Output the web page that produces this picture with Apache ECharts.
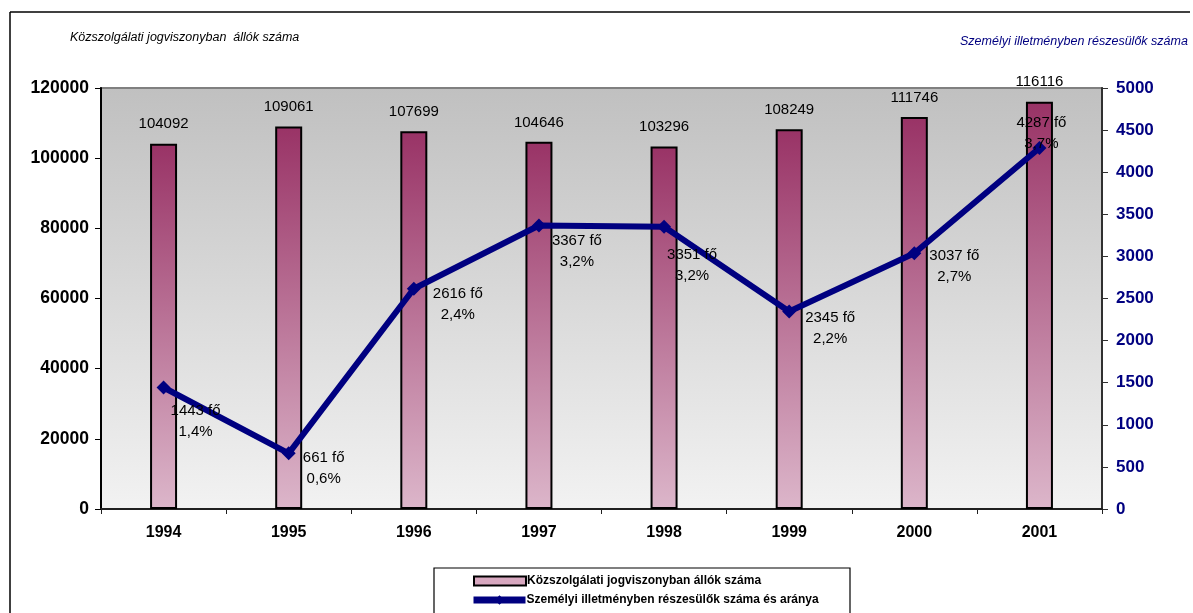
<!DOCTYPE html>
<html>
<head>
<meta charset="utf-8">
<script src="https://cdn.jsdelivr.net/npm/echarts@6/dist/echarts.min.js"></script>
<style>html,body{margin:0;padding:0;background:#fff;}#c{width:1193px;height:613px;}</style>
</head>
<body>
<div id="c"></div>
<script>
const years = ['1994','1995','1996','1997','1998','1999','2000','2001'];
const employees = [104092, 109061, 107699, 104646, 103296, 108249, 111746, 116116];
const personal = [1443, 661, 2616, 3367, 3351, 2345, 3037, 4287];
const shares = ['1,4%', '0,6%', '2,4%', '3,2%', '3,2%', '2,2%', '2,7%', '3,7%'];
const leftTicks = [0, 20000, 40000, 60000, 80000, 100000, 120000];
const rightTicks = [0, 500, 1000, 1500, 2000, 2500, 3000, 3500, 4000, 4500, 5000];
const barName = 'Közszolgálati jogviszonyban állók száma';
const lineName = 'Személyi illetményben részesülők száma és aránya';
const leftTitle = 'Közszolgálati jogviszonyban  állók száma';
const rightTitle = 'Személyi illetményben részesülők száma';

// label offsets (layout only)
const lblOffsets = [[32,34],[35,15],[44,16],[38,26],[28,39],[41,17],[40,13],[2,-15]];

const chart = echarts.init(document.getElementById('c'), null, {renderer:'canvas'});
const font = 'Arial, "Liberation Sans", sans-serif';
const barGrad = new echarts.graphic.LinearGradient(0,0,0,1,[
  {offset:0, color:'#993366'},
  {offset:1, color:'#dcb6ca'}
]);
const bgGrad = new echarts.graphic.LinearGradient(0,0,0,1,[
  {offset:0, color:'#c0c0c0'},
  {offset:1, color:'#f2f2f2'}
]);
const legendText = {fontSize:12, fontWeight:'bold', color:'#000', fontFamily:font, padding:[0,0,0,-4]};

chart.setOption({
  animation:false,
  backgroundColor:'#ffffff',
  textStyle:{fontFamily:font},
  grid:{left:101, right:91, top:88, bottom:104, show:true, backgroundColor:bgGrad, borderColor:'#808080', borderWidth:2},
  graphic:[
    {type:'line', shape:{x1:10,y1:12,x2:1190,y2:12}, style:{stroke:'#000', lineWidth:1.5}},
    {type:'line', shape:{x1:10,y1:12,x2:10,y2:613}, style:{stroke:'#000', lineWidth:1.5}},
    {type:'rect', shape:{x:434,y:568,width:416,height:60}, style:{fill:'#fff', stroke:'#000', lineWidth:1.2}, z:-1},
    {type:'text', left:70, top:31, style:{text:leftTitle, font:'italic 12.5px '+font, fill:'#000'}},
    {type:'text', left:960, top:35, style:{text:rightTitle, font:'italic 12.5px '+font, fill:'#000080'}}
  ],
  legend:[
    {left:473, top:575, padding:0, itemWidth:52, itemHeight:9, textStyle:legendText,
     data:[{name:barName, icon:'rect', itemStyle:{color:'#d8a8c0', borderColor:'#000', borderWidth:2}}]},
    {left:470, top:594, padding:0, itemWidth:52, itemHeight:12, textStyle:legendText,
     data:[{name:lineName, itemStyle:{color:'#000080'}, lineStyle:{color:'#000080', width:7}}]}
  ],
  xAxis:{
    type:'category', data:years, boundaryGap:true,
    axisLine:{lineStyle:{color:'#202020', width:2}},
    axisTick:{show:true, length:5, lineStyle:{color:'#202020'}},
    axisLabel:{fontSize:16, fontWeight:'bold', color:'#000', margin:16}
  },
  yAxis:[
    {type:'value', min:0, max:120000, interval:20000, position:'left',
     axisLine:{show:true, lineStyle:{color:'#000', width:2}},
     axisTick:{show:true, length:6, lineStyle:{color:'#000'}},
     splitLine:{show:false},
     axisLabel:{fontSize:17.5, fontWeight:'bold', color:'#000', margin:12,
       formatter:v=>leftTicks.includes(v)?String(v):''}},
    {type:'value', min:0, max:5000, interval:500, position:'right',
     axisLine:{show:true, lineStyle:{color:'#303030', width:2}},
     axisTick:{show:true, length:6, lineStyle:{color:'#303030'}},
     splitLine:{show:false},
     axisLabel:{fontSize:17, fontWeight:'bold', color:'#000080', margin:14,
       formatter:v=>rightTicks.includes(v)?String(v):''}}
  ],
  series:[
    {name:barName, type:'bar', data:employees, barWidth:27, yAxisIndex:0,
     itemStyle:{color:barGrad, borderColor:'#000', borderWidth:2},
     label:{show:true, position:'top', distance:12, fontSize:15, color:'#000', fontFamily:font}},
    {name:lineName, type:'line', yAxisIndex:1, z:3,
     data:personal.map((v,i)=>({value:v, label:{offset:lblOffsets[i]}})),
     lineStyle:{color:'#000080', width:6}, itemStyle:{color:'#000080'},
     symbol:'diamond', symbolSize:14, showAllSymbol:true,
     label:{show:true, position:'inside', fontSize:15, color:'#000', lineHeight:21, align:'center', verticalAlign:'middle',
       formatter:p=>personal[p.dataIndex]+' fő\n'+shares[p.dataIndex]}}
  ]
});
</script>
</body>
</html>
